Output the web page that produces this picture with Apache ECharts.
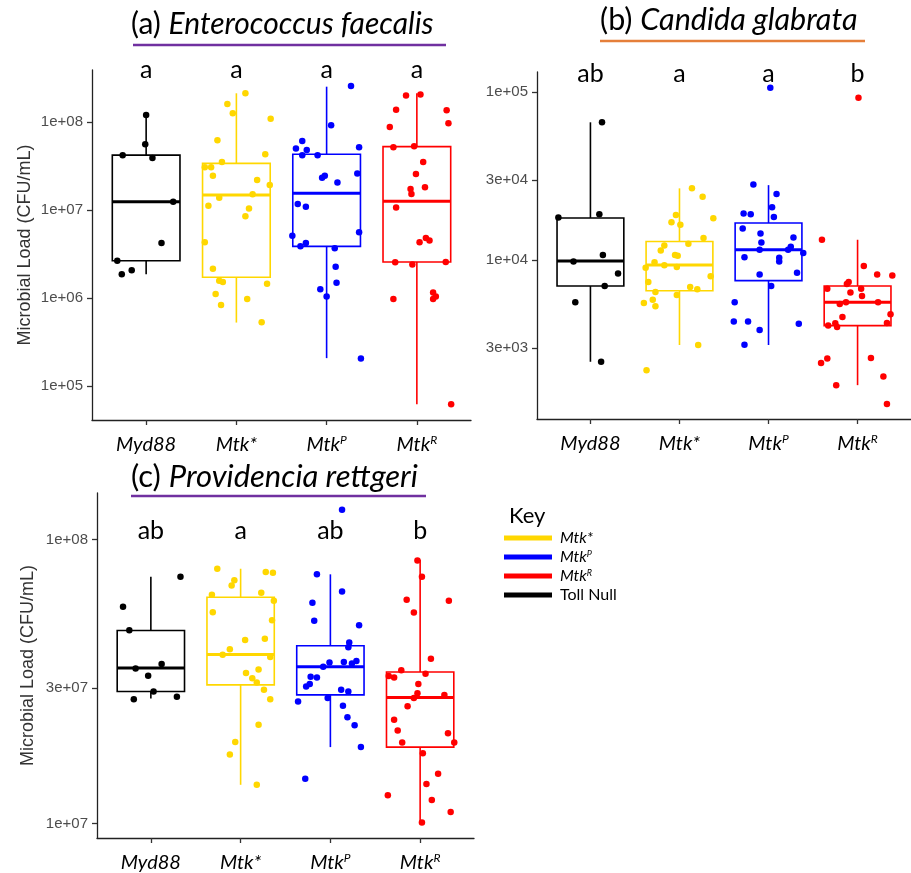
<!DOCTYPE html>
<html>
<head>
<meta charset="utf-8">
<title>Microbial load</title>
<script src="https://cdn.jsdelivr.net/npm/echarts@6.0.0/dist/echarts.min.js"></script>
<style>
  html, body { margin: 0; padding: 0; background: #fff; }
  #main { width: 911px; height: 873px; }
</style>
</head>
<body>
<div id="main"></div>
<script>
// groups on the x axis, and their names in the key
const categories = ['Myd88', 'Mtk*', 'MtkP', 'MtkR'];
const keyNames = ['Toll Null', 'Mtk*', 'MtkP', 'MtkR'];
const groupColors = ['#000000', '#FFD700', '#0000FF', '#FF0000'];

// y tick values (log axis)
const ticksA = [1e5, 1e6, 1e7, 1e8];
const ticksB = [3e3, 1e4, 3e4, 1e5];
const ticksC = [1e7, 3e7, 1e8];

// significance letters
const lettersA = ['a', 'a', 'a', 'a'];
const lettersB = ['ab', 'a', 'a', 'b'];
const lettersC = ['ab', 'a', 'ab', 'b'];

// box stats per group: [lower whisker, q1, median, q3, upper whisker]
const boxA = [[1.86e6, 2.65e6, 1.24e7, 4.2e7, 1.2e8], [5.25e5, 1.72e6, 1.48e7, 3.39e7, 2.12e8],
  [2.07e5, 3.86e6, 1.55e7, 4.3e7, 2.52e8], [6.2e4, 2.56e6, 1.26e7, 5.25e7, 2.12e8]];
const boxB = [[2.48e3, 7.0e3, 9.86e3, 1.78e4, 6.6e4], [3.12e3, 6.56e3, 9.33e3, 1.29e4, 2.67e4],
  [3.12e3, 7.54e3, 1.15e4, 1.66e4, 2.79e4], [1.8e3, 4.07e3, 5.6e3, 7.0e3, 1.32e4]];
const boxC = [[2.76e7, 2.92e7, 3.53e7, 4.79e7, 7.4e7], [1.37e7, 3.08e7, 3.94e7, 6.27e7, 7.9e7],
  [1.86e7, 2.84e7, 3.57e7, 4.23e7, 7.55e7], [1.01e7, 1.86e7, 2.78e7, 3.42e7, 8.5e7]];

// jittered points: [x (group units, jittered), CFU/mL]
const aMyd88 = [[1.00, 1.2e8], [0.99, 5.6e7], [0.74, 4.2e7], [1.07, 3.9e7], [1.30, 1.24e7], [1.17, 4.2e6], [0.68, 2.65e6], [0.84, 2.07e6], [0.73, 1.86e6]];
const aMtkS = [[2.10, 2.12e8], [1.90, 1.6e8], [1.96, 1.26e8], [2.38, 1.09e8], [1.79, 6.2e7], [2.32, 4.3e7], [1.84, 3.5e7], [1.65, 3.05e7], [1.72, 3.05e7],
  [1.74, 2.45e7], [2.23, 2.19e7], [2.37, 1.92e7], [2.18, 1.51e7], [1.81, 1.38e7], [1.69, 1.12e7], [2.14, 1.04e7], [2.10, 8.5e6], [1.65, 4.3e6],
  [1.74, 2.15e6], [1.81, 1.57e6], [1.85, 1.52e6], [2.34, 1.45e6], [1.77, 1.11e6], [2.12, 9.7e5], [1.83, 8.3e5], [2.28, 5.3e5]];
const aMtkP = [[3.27, 2.56e8], [3.05, 9.2e7], [2.73, 6.1e7], [2.66, 5.0e7], [2.78, 4.8e7], [3.36, 5.15e7], [2.73, 4.2e7], [2.90, 4.2e7], [3.34, 2.6e7],
  [2.98, 2.45e7], [2.95, 2.33e7], [3.12, 2.05e7], [2.68, 1.17e7], [2.77, 1.09e7], [2.62, 5.1e6], [3.36, 5.6e6], [2.77, 4.2e6], [2.71, 3.86e6],
  [3.09, 3.67e6], [3.10, 2.27e6], [3.11, 1.49e6], [2.93, 1.26e6], [3.00, 1.04e6], [3.38, 2.05e5]];
const aMtkR = [[3.88, 2.0e8], [4.04, 2.05e8], [3.77, 1.38e8], [4.33, 1.36e8], [4.35, 9.7e7], [3.70, 8.8e7], [3.74, 5.15e7], [3.97, 5.3e7], [4.07, 3.5e7],
  [3.99, 2.56e7], [4.09, 1.81e7], [3.93, 1.73e7], [3.94, 1.52e7], [3.77, 1.07e7], [4.03, 4.3e6], [4.10, 4.8e6], [4.14, 4.5e6], [3.76, 2.55e6],
  [3.95, 2.4e6], [4.32, 2.56e6], [3.74, 9.75e5], [4.18, 1.15e6], [4.21, 1.04e6], [4.18, 9.7e5], [4.38, 6.2e4]];

const bMyd88 = [[1.13, 6.6e4], [0.64, 1.79e4], [1.10, 1.87e4], [1.14, 1.07e4], [0.81, 9.8e3], [1.31, 8.3e3], [1.16, 7.0e3], [0.83, 5.6e3], [1.12, 2.48e3]];
const bMtkS = [[2.14, 2.67e4], [2.26, 2.38e4], [1.96, 1.85e4], [2.38, 1.77e4], [1.91, 1.68e4], [2.01, 1.62e4], [2.27, 1.35e4], [2.10, 1.25e4], [1.83, 1.22e4],
  [1.79, 1.14e4], [1.95, 1.07e4], [1.98, 1.06e4], [1.72, 9.7e3], [1.83, 9.3e3], [1.62, 9.0e3], [1.97, 9.1e3], [2.35, 8.0e3], [1.65, 7.4e3],
  [2.12, 6.9e3], [2.20, 6.7e3], [1.73, 6.45e3], [1.97, 6.2e3], [1.70, 5.8e3], [1.60, 5.55e3], [1.73, 5.3e3], [2.21, 3.12e3], [1.63, 2.21e3]];
const bMtkP = [[3.02, 1.06e5], [2.83, 2.81e4], [3.09, 2.47e4], [3.04, 2.06e4], [2.72, 1.89e4], [2.80, 1.87e4], [3.06, 1.8e4], [2.71, 1.54e4], [2.91, 1.44e4],
  [3.28, 1.36e4], [2.92, 1.27e4], [3.25, 1.2e4], [2.90, 1.15e4], [3.22, 1.15e4], [3.39, 1.1e4], [2.73, 1.04e4], [3.12, 1.03e4], [3.12, 9.8e3],
  [2.90, 8.2e3], [3.32, 8.4e3], [3.03, 7.0e3], [2.62, 5.6e3], [2.61, 4.3e3], [2.77, 4.3e3], [3.34, 4.18e3], [2.90, 3.83e3], [2.73, 3.13e3]];
const bMtkR = [[4.01, 9.25e4], [3.60, 1.32e4], [4.07, 9.2e3], [4.22, 8.2e3], [4.39, 8.1e3], [3.90, 7.4e3], [3.88, 7.2e3], [3.66, 6.75e3], [4.04, 6.75e3],
  [3.92, 6.4e3], [4.05, 6.1e3], [4.23, 5.6e3], [3.87, 5.6e3], [3.80, 5.47e3], [4.37, 4.75e3], [3.83, 4.58e3], [4.33, 4.22e3], [3.67, 4.08e3],
  [3.75, 4.2e3], [3.77, 4.0e3], [4.15, 2.61e3], [3.66, 2.59e3], [3.59, 2.44e3], [4.29, 2.03e3], [3.76, 1.8e3], [4.33, 1.39e3]];

const cMyd88 = [[1.33, 7.4e7], [0.69, 5.8e7], [0.76, 4.8e7], [0.83, 3.52e7], [1.12, 3.65e7], [0.97, 3.32e7], [1.03, 2.92e7], [0.81, 2.74e7], [1.29, 2.8e7]];
const cMtkS = [[1.74, 7.9e7], [2.28, 7.7e7], [2.36, 7.65e7], [1.93, 7.2e7], [1.90, 6.9e7], [1.68, 6.4e7], [2.23, 6.5e7], [2.37, 6.1e7], [1.69, 5.55e7],
  [2.35, 5.2e7], [2.05, 4.43e7], [2.27, 4.48e7], [1.88, 4.11e7], [1.80, 3.93e7], [2.33, 3.86e7], [2.20, 3.49e7], [2.06, 3.39e7], [2.13, 3.25e7],
  [2.18, 3.14e7], [2.26, 2.96e7], [2.33, 2.74e7], [2.20, 2.23e7], [1.94, 1.94e7], [1.88, 1.75e7], [2.18, 1.37e7]];
const cMtkP = [[3.13, 1.275e8], [2.85, 7.55e7], [3.13, 6.57e7], [2.80, 6.0e7], [2.82, 5.18e7], [3.32, 5.0e7], [3.21, 4.34e7], [3.20, 4.18e7], [3.29, 3.74e7],
  [3.24, 3.66e7], [3.15, 3.71e7], [2.99, 3.69e7], [2.92, 3.57e7], [2.85, 3.27e7], [2.78, 3.29e7], [2.77, 3.1e7], [2.73, 3.04e7], [3.12, 2.96e7],
  [3.20, 2.92e7], [2.64, 2.69e7], [2.97, 2.77e7], [3.14, 2.6e7], [3.19, 2.37e7], [3.27, 2.22e7], [3.34, 1.86e7], [2.72, 1.44e7]];
const cMtkR = [[3.97, 8.45e7], [4.02, 7.4e7], [3.85, 6.14e7], [4.32, 6.09e7], [3.93, 5.54e7], [4.12, 3.81e7], [3.79, 3.47e7], [3.65, 3.31e7], [3.71, 3.27e7],
  [4.06, 3.37e7], [3.98, 3.1e7], [3.97, 2.88e7], [3.93, 2.77e7], [4.27, 2.84e7], [3.86, 2.59e7], [3.71, 2.32e7], [3.75, 2.13e7], [4.31, 2.08e7],
  [3.80, 1.93e7], [4.38, 1.93e7], [4.03, 1.77e7], [4.20, 1.5e7], [4.07, 1.38e7], [3.64, 1.26e7], [4.13, 1.21e7], [4.34, 1.1e7], [4.02, 1.01e7]];

// panel layout
const panels = [
  { prefix: '(a) ', species: 'Enterococcus faecalis', letters: lettersA, ticks: ticksA, boxes: boxA,
    points: [aMyd88, aMtkS, aMtkP, aMtkR], grid: { left: 92, top: 70, width: 379, height: 350 },
    yMin: 4.1e4, yMax: 3.9e8, yName: true, nameGap: 58, letterMargin: -12, titlePos: [131, 8], titleSize: 30 },
  { prefix: '(b) ', species: 'Candida glabrata', letters: lettersB, ticks: ticksB, boxes: boxB,
    points: [bMyd88, bMtkS, bMtkP, bMtkR], grid: { left: 537, top: 72, width: 377, height: 347 },
    yMin: 1132, yMax: 1.315e5, yName: false, nameGap: 55, letterMargin: -14, titlePos: [600, 4], titleSize: 30.5 },
  { prefix: '(c) ', species: 'Providencia rettgeri', letters: lettersC, ticks: ticksC, boxes: boxC,
    points: [cMyd88, cMtkS, cMtkP, cMtkR], grid: { left: 97, top: 493, width: 377, height: 348 },
    yMin: 8.9e6, yMax: 1.46e8, yName: true, nameGap: 60, letterMargin: -50, titlePos: [131, 461], titleSize: 31 }
];

const catRich = { 'Myd88': '{i|Myd88}', 'Mtk*': '{i|Mtk*}', 'MtkP': '{i|Mtk}{s|P}', 'MtkR': '{i|Mtk}{s|R}' };
const keyRich = { 'Toll Null': '{n|Toll Null}', 'Mtk*': '{i|Mtk*}', 'MtkP': '{i|Mtk}{s|P}', 'MtkR': '{i|Mtk}{s|R}' };

// 1e+08 style labels
function sci(v) {
  const e = Math.floor(Math.log10(v) + 1e-9);
  const m = Math.round(v / Math.pow(10, e));
  return m + 'e+' + (e < 10 ? '0' + e : e);
}

function boxItem(params, api) {
  const u = api.value(0);
  const hw = 0.375;
  const color = api.visual('color');
  const low = api.coord([u, api.value(1)]);
  const q1 = api.coord([u - hw, api.value(2)]);
  const medL = api.coord([u - hw, api.value(3)]);
  const medR = api.coord([u + hw, api.value(3)]);
  const q3 = api.coord([u + hw, api.value(4)]);
  const high = api.coord([u, api.value(5)]);
  const ls = { stroke: color, lineWidth: 1.6 };
  return {
    type: 'group',
    children: [
      { type: 'line', shape: { x1: low[0], y1: low[1], x2: low[0], y2: q1[1] }, style: ls },
      { type: 'line', shape: { x1: high[0], y1: high[1], x2: high[0], y2: q3[1] }, style: ls },
      { type: 'rect', shape: { x: q1[0], y: q3[1], width: q3[0] - q1[0], height: q1[1] - q3[1] },
        style: { fill: 'none', stroke: color, lineWidth: 1.6 } },
      { type: 'line', shape: { x1: medL[0], y1: medL[1], x2: medR[0], y2: medR[1] },
        style: { stroke: color, lineWidth: 3 } }
    ]
  };
}

const grid = [], xAxis = [], yAxis = [], series = [], title = [];
const xRich = {
  i: { fontFamily: 'Lato', fontStyle: 'italic', fontSize: 20, lineHeight: 22, color: '#000' },
  s: { fontFamily: 'Lato', fontStyle: 'italic', fontSize: 12, lineHeight: 12, verticalAlign: 'top', color: '#000' }
};

panels.forEach((p, k) => {
  grid.push(p.grid);
  // bottom axis with group names
  xAxis.push({
    gridIndex: k, type: 'value', min: 0.4, max: 4.6, position: 'bottom',
    axisLine: { onZero: false, lineStyle: { color: '#222', width: 1.3 } },
    axisTick: { customValues: [1, 2, 3, 4], length: 5, lineStyle: { color: '#333', width: 1.3 } },
    axisLabel: { customValues: [1, 2, 3, 4], margin: 14, formatter: v => catRich[categories[Math.round(v) - 1]], rich: xRich },
    splitLine: { show: false }
  });
  // top axis carrying only the significance letters
  xAxis.push({
    gridIndex: k, type: 'value', min: 0.4, max: 4.6, position: 'top',
    axisLine: { show: false }, axisTick: { show: false }, splitLine: { show: false },
    axisLabel: {
      customValues: [1, 2, 3, 4], margin: p.letterMargin, verticalAlign: 'bottom',
      fontFamily: 'Lato', fontSize: 25, lineHeight: 25, color: '#000',
      formatter: v => p.letters[Math.round(v) - 1]
    }
  });
  yAxis.push({
    gridIndex: k, type: 'log', logBase: 10, min: p.yMin, max: p.yMax,
    name: p.yName ? 'Microbial Load (CFU/mL)' : '', nameLocation: 'middle', nameGap: p.nameGap, nameRotate: 90,
    nameTextStyle: { fontFamily: 'Liberation Sans', fontSize: 18, color: '#333' },
    axisLine: { show: true, lineStyle: { color: '#222', width: 1.3 } },
    axisTick: { show: true, customValues: p.ticks, length: 5, lineStyle: { color: '#333', width: 1.3 } },
    axisLabel: { customValues: p.ticks, margin: 9, formatter: sci, fontFamily: 'Liberation Sans', fontSize: 15, color: '#4d4d4d' },
    splitLine: { show: false }, minorTick: { show: false }
  });
  // jittered points first so the key picks up their colour
  p.points.forEach((pts, g) => {
    series.push({
      type: 'scatter', name: keyNames[g], xAxisIndex: 2 * k, yAxisIndex: k,
      data: pts, symbolSize: 6.5, z: 3,
      itemStyle: { color: groupColors[g], opacity: 1 }
    });
  });
  p.boxes.forEach((b, g) => {
    series.push({
      type: 'custom', name: keyNames[g], xAxisIndex: 2 * k, yAxisIndex: k, z: 2,
      renderItem: boxItem, itemStyle: { color: groupColors[g] },
      encode: { x: 0, y: [1, 2, 3, 4, 5] },
      data: [[g + 1].concat(b)]
    });
  });
  title.push({
    text: '{n|' + p.prefix + '}{i|' + p.species + '}',
    left: p.titlePos[0], top: p.titlePos[1], padding: 0,
    textStyle: {
      fontWeight: 'normal',
      rich: {
        n: { fontFamily: 'Lato', fontSize: p.titleSize, lineHeight: 32, fontWeight: 'normal', color: '#000' },
        i: { fontFamily: 'Lato', fontSize: p.titleSize, lineHeight: 32, fontWeight: 'normal', fontStyle: 'italic', color: '#000' }
      }
    }
  });
});

title.push({ text: 'Key', left: 504, top: 500, textStyle: { fontFamily: 'Lato', fontSize: 22, fontWeight: 'normal', color: '#000' } });

const option = {
  backgroundColor: '#fff',
  animation: false,
  title,
  grid,
  xAxis,
  yAxis,
  legend: {
    orient: 'vertical', left: 499, top: 525, icon: 'rect', itemWidth: 48, itemHeight: 5, itemGap: 3,
    selectedMode: false,
    data: ['Mtk*', 'MtkP', 'MtkR', 'Toll Null'],
    formatter: n => keyRich[n],
    textStyle: {
      rich: {
        i: { fontFamily: 'Lato', fontStyle: 'italic', fontSize: 16, lineHeight: 15, color: '#000', padding: [0, 0, 0, 3] },
        s: { fontFamily: 'Lato', fontStyle: 'italic', fontSize: 9, lineHeight: 9, verticalAlign: 'top', color: '#000' },
        n: { fontFamily: 'Lato', fontSize: 16, lineHeight: 15, color: '#000', padding: [0, 0, 0, 3] }
      }
    }
  },
  // title underlines
  graphic: [
    { type: 'line', shape: { x1: 133, y1: 45, x2: 446, y2: 45 }, style: { stroke: '#7030A0', lineWidth: 2.5 } },
    { type: 'line', shape: { x1: 600, y1: 41, x2: 865, y2: 41 }, style: { stroke: '#E57F3A', lineWidth: 2.5 } },
    { type: 'line', shape: { x1: 131, y1: 496, x2: 426, y2: 496 }, style: { stroke: '#7030A0', lineWidth: 2.5 } }
  ],
  series
};

const chart = echarts.init(document.getElementById('main'), null, { renderer: 'canvas' });
chart.setOption(option);
</script>
</body>
</html>
